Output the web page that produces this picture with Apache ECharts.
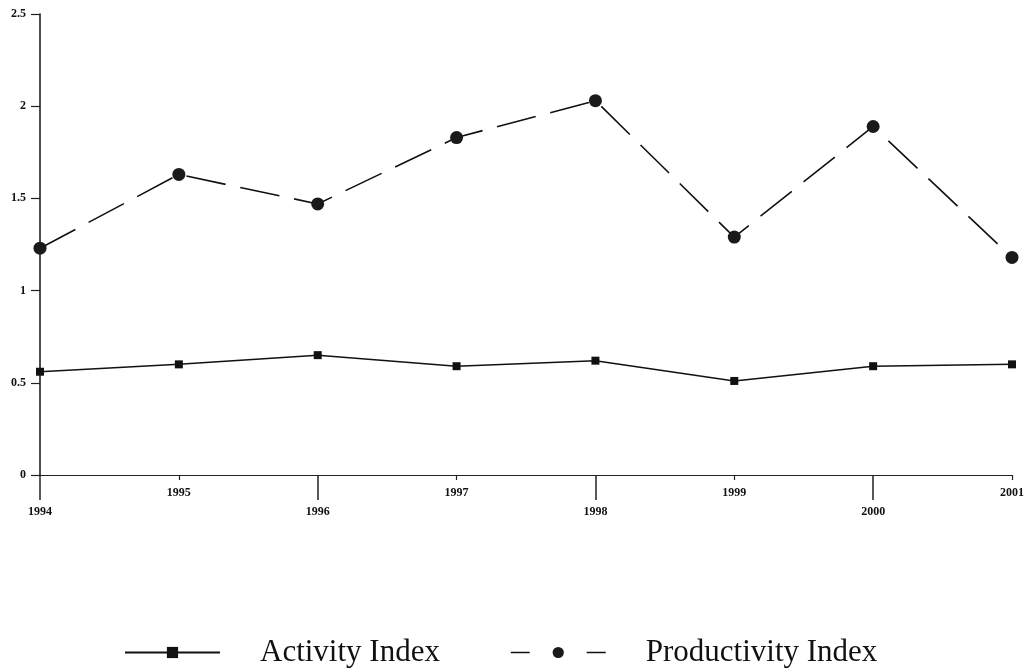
<!DOCTYPE html>
<html>
<head>
<meta charset="utf-8">
<script src="https://cdn.jsdelivr.net/npm/echarts@6/dist/echarts.min.js"></script>
<style>
html,body{margin:0;padding:0;background:#fff;}
#main{width:1028px;height:669px;}
</style>
</head>
<body>
<div id="main"></div>
<script>
var years = ['1994','1995','1996','1997','1998','1999','2000','2001'];
var activityIndex = [0.56, 0.60, 0.65, 0.59, 0.62, 0.51, 0.59, 0.60];
var productivityIndex = [1.23, 1.63, 1.47, 1.83, 2.03, 1.29, 1.89, 1.18];
var yTicks = ['0','0.5','1','1.5','2','2.5'];

var chart = echarts.init(document.getElementById('main'));
var labelFont = {fontFamily:'Liberation Serif', fontWeight:'bold', fontSize:12, color:'#111'};
chart.setOption({
  animation:false,
  backgroundColor:'#fff',
  grid:{left:40, right:16, top:14, bottom:194},
  xAxis:[{
    type:'category', data:years, boundaryGap:false, position:'bottom',
    axisLine:{lineStyle:{color:'#222', width:1.2}},
    axisTick:{show:true, length:5, interval:function(i){return i%2===1;}, lineStyle:{color:'#222', width:1.2}},
    axisLabel:Object.assign({interval:function(i){return i%2===1;}, margin:12}, labelFont),
    splitLine:{show:false}
  },{
    type:'category', data:years, boundaryGap:false, position:'bottom',
    axisLine:{show:false},
    axisTick:{show:true, length:25, interval:function(i){return i%2===0;}, lineStyle:{color:'#222', width:1.5}},
    axisLabel:Object.assign({interval:function(i){return i%2===0;}, margin:31}, labelFont),
    splitLine:{show:false}
  }],
  yAxis:{
    type:'value', min:0, max:2.5, interval:0.5,
    axisLine:{show:true, lineStyle:{color:'#111', width:1.5}},
    axisTick:{show:true, length:9, lineStyle:{color:'#222', width:1.2}},
    axisLabel:Object.assign({margin:14, formatter:function(v){
      var idx = Math.round(v/0.5); return yTicks[idx];
    }}, labelFont),
    splitLine:{show:false}
  },
  legend:{
    left:119, top:632, itemWidth:95, itemHeight:14, itemGap:70,
    textStyle:{fontFamily:'Liberation Serif', fontSize:31, color:'#111', padding:[0,0,0,35]},
    data:[
      {name:'Activity Index'},
      {name:'Productivity Index', lineStyle:{type:[19,57], width:1.6}}
    ]
  },
  series:[{
    name:'Activity Index', type:'line', data:activityIndex, xAxisIndex:0,
    symbol:'rect', symbolSize:8,
    lineStyle:{color:'#111', width:1.5},
    itemStyle:{color:'#111'}
  },{
    name:'Productivity Index', type:'line', data:productivityIndex, xAxisIndex:0,
    symbol:'circle', symbolSize:13,
    lineStyle:{color:'#111', width:1.6, type:[40,15]},
    itemStyle:{color:'#1a1a1a'}
  }]
});
</script>
</body>
</html>
